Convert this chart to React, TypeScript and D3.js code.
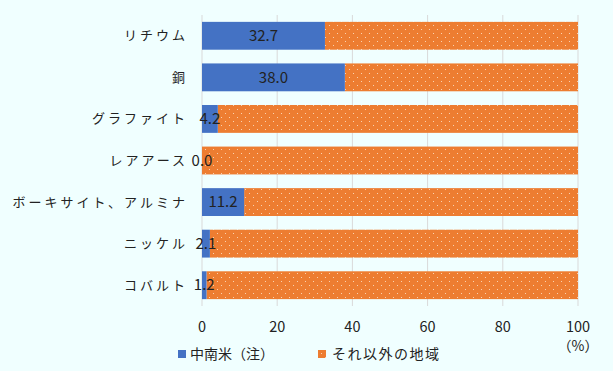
import React from "react";
import * as d3 from "d3";

const categories = ["リチウム", "銅", "グラファイト", "レアアース", "ボーキサイト、アルミナ", "ニッケル", "コバルト"];
const latamValues = [32.7, 38.0, 4.2, 0.0, 11.2, 2.1, 1.2];
const xTicks = [0, 20, 40, 60, 80, 100];
const seriesNames = ["中南米（注）", "それ以外の地域"];

const W = 613;
const H = 371;
const FONT = "'Noto Sans CJK JP', 'Noto Sans', sans-serif";

export default function App() {
  const x = d3.scaleLinear().domain([0, 100]).range([202, 578]);
  const y = d3.scaleBand<string>().domain(categories).range([15, 306]).paddingInner(0.33).paddingOuter(0.165);
  const blue = "#4472C4";
  const orange = "#ED7D31";
  return (
    <svg width={W} height={H} style={{ position: "absolute", left: 0, top: 0, background: "#F0FFFF" }} fontFamily={FONT}>
      <defs>
        <pattern id="dots" width={8} height={8} patternUnits="userSpaceOnUse">
          <rect width={8} height={8} fill={orange} />
          <rect x={1} y={1} width={1} height={1} fill="#F9D2B0" />
          <rect x={5} y={5} width={1} height={1} fill="#F9D2B0" />
        </pattern>
      </defs>
      <rect width={W} height={H} fill="#F0FFFF" />
      {xTicks.map((t) => (
        <line key={t} x1={x(t)} x2={x(t)} y1={15} y2={306} stroke="#D9D9D9" strokeWidth={1} />
      ))}
      {categories.map((c, i) => {
        const v = latamValues[i];
        const y0 = y(c)!;
        const bh = y.bandwidth();
        return (
          <g key={c}>
            <rect x={x(v)} y={y0} width={x(100) - x(v)} height={bh} fill="url(#dots)" />
            <rect x={x(0)} y={y0} width={x(v) - x(0)} height={bh} fill={blue} />
            <text x={(x(0) + x(v)) / 2} y={y0 + bh / 2} dy="0.35em" textAnchor="middle" fontSize={15} fill="#222">
              {v.toFixed(1)}
            </text>
            <text x={188} y={y0 + bh / 2} dy="0.35em" textAnchor="end" fontSize={13} letterSpacing={3} fill="#222">
              {c}
            </text>
          </g>
        );
      })}
      {xTicks.map((t) => (
        <text key={t} x={x(t)} y={327} dy="0.35em" textAnchor="middle" fontSize={14.5} fill="#222">
          {t}
        </text>
      ))}
      <text x={x(100)} y={346} dy="0.35em" textAnchor="middle" fontSize={14} fill="#222">（%）</text>
      <rect x={178} y={350} width={8} height={8} fill={blue} />
      <text x={190} y={354} dy="0.35em" fontSize={14} fill="#222">{seriesNames[0]}</text>
      <rect x={318} y={350} width={8} height={8} fill="url(#dots)" />
      <text x={332} y={354} dy="0.35em" fontSize={14} letterSpacing={1.5} fill="#222">{seriesNames[1]}</text>
    </svg>
  );
}
